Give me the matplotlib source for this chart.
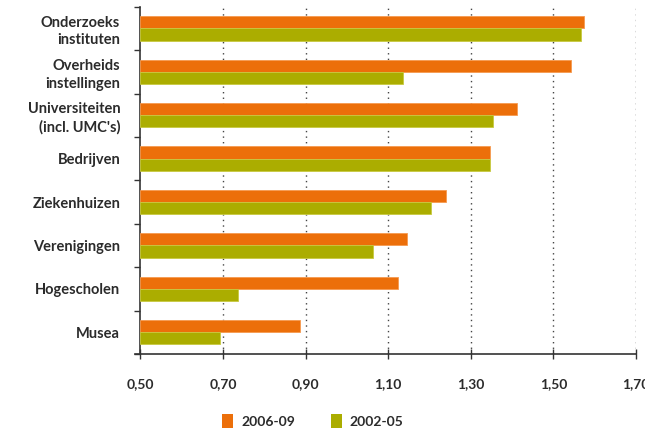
import matplotlib
matplotlib.use("Agg")
import matplotlib.pyplot as plt
from matplotlib.patches import Patch
import numpy as np

categories = ["Onderzoeks\ninstituten", "Overheids\ninstellingen", "Universiteiten\n(incl. UMC's)",
              "Bedrijven", "Ziekenhuizen", "Verenigingen", "Hogescholen", "Musea"]
series_2006_09 = [1.574, 1.543, 1.413, 1.346, 1.241, 1.145, 1.123, 0.887]
series_2002_05 = [1.568, 1.137, 1.354, 1.346, 1.204, 1.064, 0.737, 0.693]
series_names = ["2006-09", "2002-05"]
x_ticks = [0.50, 0.70, 0.90, 1.10, 1.30, 1.50, 1.70]
x_tick_labels = ["0,50", "0,70", "0,90", "1,10", "1,30", "1,50", "1,70"]

c_orange = "#EC6F0A"
c_green = "#ABAD00"
txt = "#2b2b2b"
plt.rcParams['font.family'] = ['Lato', 'DejaVu Sans']

fig = plt.figure(figsize=(6.45, 4.33), dpi=100)
ax = fig.add_axes([140.3/645, 1-354/433, (636-140.3)/645, (354-6.7)/433])

y = np.arange(len(categories))
h = 0.28
base = 0.5
ax.barh(y - h/2, np.array(series_2006_09) - base, left=base, height=h, color=c_orange,
        edgecolor="#F59A50", linewidth=0.6, zorder=3)
ax.barh(y + h/2, np.array(series_2002_05) - base, left=base, height=h, color=c_green,
        edgecolor="#C8CA40", linewidth=0.6, zorder=3)

ax.set_xlim(0.5, 1.70)
ax.set_ylim(len(categories) - 0.5, -0.5)

ax.set_xticks(x_ticks)
ax.set_xticklabels(x_tick_labels, fontsize=10, fontweight='bold', color=txt)
ax.tick_params(axis='x', direction='inout', length=7, width=1.0, color="#333333", pad=14)

ax.set_yticks(np.arange(-0.5, len(categories), 1.0))
ax.set_yticklabels([])
ax.set_yticks(y, minor=True)
ax.set_yticklabels(categories, minor=True, fontsize=10.5, fontweight='bold', color=txt,
                   ha='right', linespacing=1.3)
ax.tick_params(axis='y', which='minor', length=0, pad=14.5)
ax.tick_params(axis='y', which='major', direction='out', length=4, width=1.0, color="#333333")

for xv in x_ticks[1:]:
    ax.axvline(xv, color="#444444", linestyle=(0, (1, 3)), linewidth=1.0, zorder=1)

for s in ['top', 'right']:
    ax.spines[s].set_visible(False)
for s in ['left', 'bottom']:
    ax.spines[s].set_color("#333333")
    ax.spines[s].set_linewidth(1.2)
ax.spines['bottom'].set_bounds(0.487, 1.70)

handles = [Patch(facecolor=c_orange, edgecolor='none'), Patch(facecolor=c_green, edgecolor='none')]
leg = fig.legend(handles, series_names, loc='center', bbox_to_anchor=(313/645, 1-421/433),
                 ncol=2, frameon=False, handlelength=0.75, handleheight=1.1, handletextpad=0.6,
                 columnspacing=2.6, prop={'family': ['Lato', 'DejaVu Sans'], 'weight': 'bold', 'size': 10})
for t in leg.get_texts():
    t.set_color(txt)

fig.savefig("out.png", dpi=100)
